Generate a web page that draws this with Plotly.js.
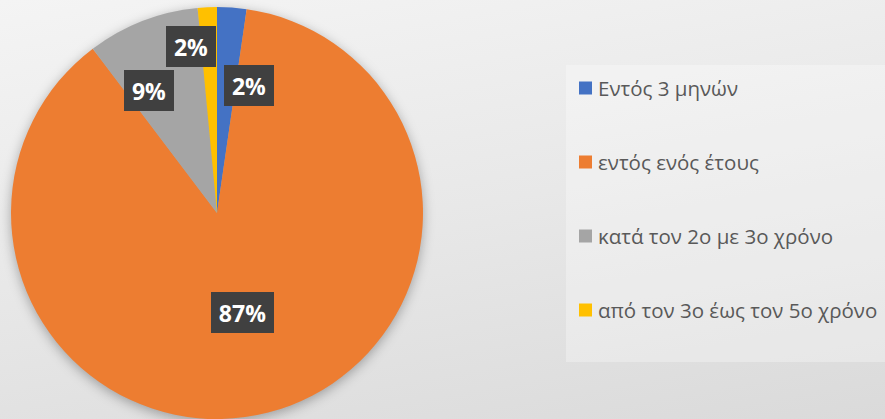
<!DOCTYPE html>
<html>
<head>
<meta charset="utf-8">
<script src="https://cdn.plot.ly/plotly-3.0.1.min.js"></script>
<style>
  html, body { margin: 0; padding: 0; }
  body { width: 885px; height: 419px; overflow: hidden;
         background: linear-gradient(170deg, #f4f4f4 0%, #e8e8e8 50%, #dadada 100%); position: relative; }
  #legendbox { position: absolute; left: 566px; top: 65px; width: 330px; height: 297px;
               background: rgba(255,255,255,0.3); }
  #chart { position: absolute; left: 0; top: 0; width: 885px; height: 419px; }
  #chart .svg-container > svg.main-svg:first-of-type { filter: drop-shadow(0px 3px 6px rgba(0,0,0,0.3)); }
</style>
</head>
<body>
<div id="legendbox"></div>
<div id="chart"></div>
<script>
// ---- data ----
const categories = ["Εντός 3 μηνών", "εντός ενός έτους", "κατά τον 2ο με 3ο χρόνο", "από τον 3ο έως τον 5ο χρόνο"];
const values = [2.3, 87.4, 8.8, 1.5];
const colors = ["#4472C4", "#ED7D31", "#A5A5A5", "#FFC000"];

// ---- layout constants (pixels) ----
const W = 885, H = 419;
const CX = 217, CY = 213, R = 206;
// label placement nudges (degrees added to mid-angle, radius fraction)
const labelAngleNudge = [10, 0, -8, -6];
const labelRadiusFrac = [0.64, 0.5, 0.68, 0.82];

const total = values.reduce((a, b) => a + b, 0);
const pctText = values.map(v => Math.round(v / total * 100) + "%");

const annotations = [];
let cum = 0;
values.forEach((v, i) => {
  const mid = (cum + v / 2) / total * 360 + labelAngleNudge[i];
  cum += v;
  const a = mid * Math.PI / 180;
  const r = labelRadiusFrac[i] * R;
  const px = CX + r * Math.sin(a);
  const py = CY - r * Math.cos(a);
  annotations.push({
    x: px / W, y: 1 - py / H, xref: "paper", yref: "paper",
    xanchor: "center", yanchor: "middle",
    text: "<b>" + pctText[i] + "</b>", showarrow: false,
    font: { family: "Open Sans, sans-serif", size: 23, color: "#ffffff" },
    width: 13 * pctText[i].length + 12, height: 29,
    bgcolor: "#404040", borderpad: 6, borderwidth: 0
  });
});

// legend drawn from categories
const legTop = 88, legGap = 74, legX = 579, sq = 13;
const shapes = [];
categories.forEach((c, i) => {
  const yc = legTop + i * legGap;
  shapes.push({
    type: "rect", xref: "paper", yref: "paper",
    x0: legX / W, x1: (legX + sq) / W,
    y0: 1 - (yc + sq / 2) / H, y1: 1 - (yc - sq / 2) / H,
    fillcolor: colors[i], line: { width: 0 }, layer: "above"
  });
  annotations.push({
    x: (legX + sq + 4) / W, y: 1 - yc / H, xref: "paper", yref: "paper",
    xanchor: "left", yanchor: "middle", showarrow: false, text: c,
    font: { family: "Open Sans, sans-serif", size: 20.5, color: "#595959" }
  });
});

const trace = {
  type: "pie",
  labels: categories,
  values: values,
  sort: false,
  direction: "clockwise",
  rotation: 0,
  marker: { colors: colors, line: { width: 0 } },
  textinfo: "none",
  hoverinfo: "label+percent",
  showlegend: false,
  domain: { x: [(CX - R) / W, (CX + R) / W], y: [1 - (CY + R) / H, 1 - (CY - R) / H] }
};

const layout = {
  width: W, height: H,
  margin: { l: 0, r: 0, t: 0, b: 0 },
  paper_bgcolor: "rgba(0,0,0,0)",
  plot_bgcolor: "rgba(0,0,0,0)",
  showlegend: false,
  annotations: annotations,
  shapes: shapes
};

Plotly.newPlot("chart", [trace], layout, { displayModeBar: false, staticPlot: true });
</script>
</body>
</html>
